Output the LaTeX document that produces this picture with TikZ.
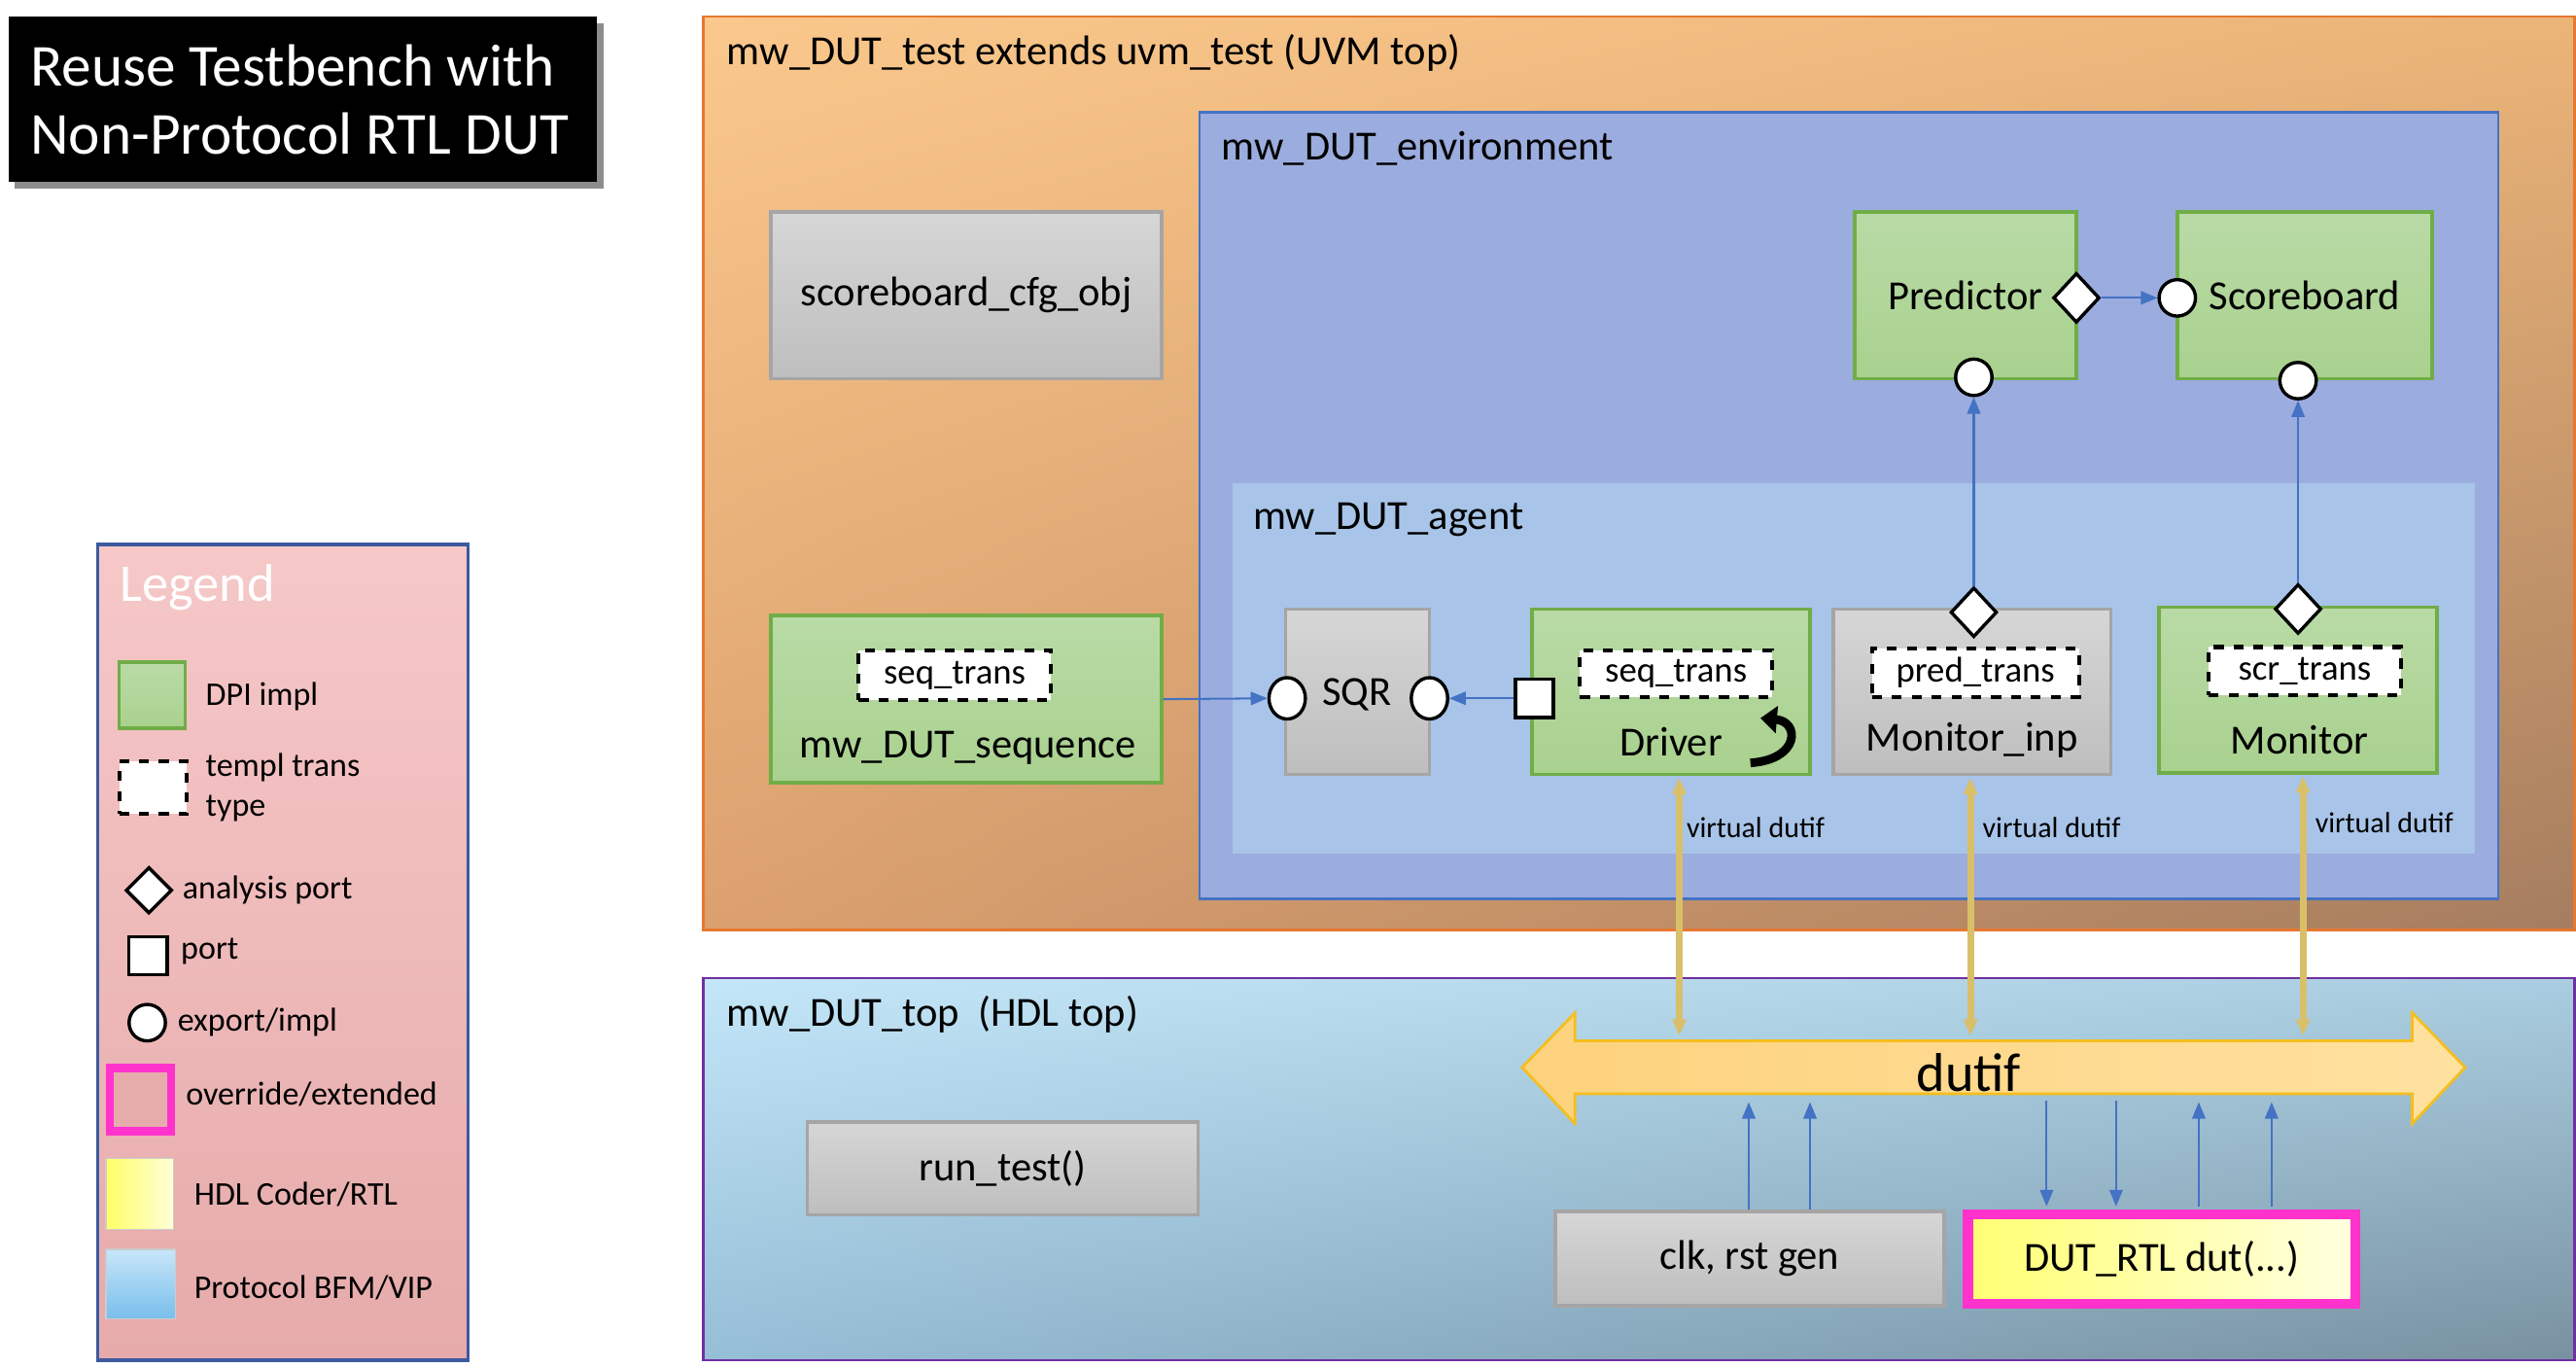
\documentclass[tikz,border=0pt]{standalone}
\usepackage{fontspec}
\setmainfont{Carlito}
\usetikzlibrary{shapes.geometric,arrows.meta,shadings}
\definecolor{gfill}{HTML}{A9D18E}
\definecolor{gtop}{HTML}{B9DAA6}
\definecolor{gline}{HTML}{70AD47}
\definecolor{grey1}{HTML}{D6D6D6}
\definecolor{grey2}{HTML}{BEBEBE}
\definecolor{greyline}{HTML}{A5A5A5}
\definecolor{bline}{HTML}{4472C4}
\definecolor{yline}{HTML}{D9BF6A}
\definecolor{mag}{HTML}{FF33CC}
\definecolor{oUL}{RGB}{250,200,140}
\definecolor{oUR}{RGB}{235,180,120}
\definecolor{oLL}{RGB}{220,160,110}
\definecolor{oLR}{RGB}{165,125,95}
\definecolor{hUL}{RGB}{195,230,248}
\definecolor{hUR}{RGB}{170,205,225}
\definecolor{hLL}{RGB}{150,190,215}
\definecolor{hLR}{RGB}{120,145,160}
\definecolor{envc}{RGB}{155,172,222}
\definecolor{agc}{RGB}{168,196,232}
\definecolor{legT}{RGB}{246,200,200}
\definecolor{legB}{RGB}{230,170,170}
\definecolor{legL}{RGB}{60,90,160}
\definecolor{uvmL}{RGB}{230,120,50}
\definecolor{hdlL}{RGB}{112,48,160}
\definecolor{arL}{RGB}{245,190,30}
\definecolor{arA}{RGB}{253,210,125}
\definecolor{arB}{RGB}{255,225,160}
\definecolor{pinkf}{RGB}{230,172,172}
\definecolor{bfmB}{RGB}{120,190,235}
\definecolor{bfmT}{RGB}{200,230,250}
\tikzset{
  x=0.5pt,y=-0.5pt,
  gbox/.style={draw=gline,line width=1pt,top color=gtop,bottom color=gfill,inner sep=0pt},
  gybox/.style={draw=greyline,line width=1pt,top color=grey1,bottom color=grey2,inner sep=0pt},
  dbox/.style={draw=black,dashed,line width=1.2pt,fill=white,inner sep=0pt,font=\fontsize{10.8}{12}\selectfont},
  lbl/.style={font=\fontsize{12.5}{14}\selectfont,inner sep=0pt},
  tlbl/.style={font=\fontsize{12.5}{14}\selectfont,anchor=west,inner sep=0pt},
  circ/.style={circle,draw=black,line width=1pt,fill=white,minimum size=11pt,inner sep=0pt},
  dia/.style={diamond,draw=black,line width=1pt,fill=white,minimum width=14pt,minimum height=15pt,inner sep=0pt,aspect=0.9},
  sq/.style={rectangle,draw=black,line width=1pt,fill=white,minimum size=11.5pt,inner sep=0pt},
  barrow/.style={draw=bline,line width=0.6pt,-{Triangle[length=5pt,width=4pt]}},
  yarrow/.style={draw=yline,line width=2pt,{Triangle[length=5pt,width=4pt]}-{Triangle[length=5pt,width=4pt]}},
  vd/.style={font=\fontsize{8.8}{10}\selectfont,anchor=west,inner sep=0pt},
  leg/.style={font=\fontsize{10}{12}\selectfont,anchor=west,inner sep=0pt},
}
\begin{document}
\begin{tikzpicture}
\useasboundingbox (0,0) rectangle (1557,826);
\fill[white] (0,0) rectangle (1557,826);
% title
\fill[black!45] (9,14) rectangle (365,114);
\fill[black] (5,10) rectangle (361,110);
\node[text=white,align=left,anchor=west,font=\fontsize{18}{20.5}\selectfont,inner sep=0pt] (title) at (18,60) {Reuse Testbench with\\Non-Protocol RTL DUT};
% legend
\shade[top color=legT, bottom color=legB] (59,329) rectangle (283,822);
\draw[draw=legL,line width=1pt] (59,329) rectangle (283,822);
\node[text=white,anchor=west,font=\fontsize{16}{18}\selectfont,inner sep=0pt] (legTx) at (72,355) {Legend};
\node[gbox,minimum width=20pt,minimum height=20pt] (lg1) at (92,420) {};
\node[leg] (lgt1) at (124,421) {DPI impl};
\node[dbox,minimum width=20.5pt,minimum height=16pt] (lg2) at (92.5,476) {};
\node[leg,align=left] (lgt2) at (124,476) {templ trans\\type};
\node[dia,minimum width=14pt,minimum height=14pt] (lg3) at (90,538) {};
\node[leg] (lgt3) at (110,538) {analysis port};
\node[sq] (lg4) at (89.5,577.5) {};
\node[leg] (lgt4) at (109,575) {port};
\node[circ] (lg5) at (89,618) {};
\node[leg] (lgt5) at (107,618) {export/impl};
\node[draw=mag,line width=2.5pt,fill=pinkf,minimum width=18.5pt,minimum height=19pt,inner sep=0pt] (lg6) at (85,664.5) {};
\node[leg] (lgt6) at (112,661) {override/extended};
\node[draw=white!80!black,left color=yellow!60,right color=yellow!15,minimum width=20.5pt,minimum height=21.5pt,inner sep=0pt] (lg7) at (84.5,721.5) {};
\node[leg] (lgt7) at (117,722) {HDL Coder/RTL};
\node[draw=white!80!black,top color=bfmT,bottom color=bfmB,minimum width=21pt,minimum height=21pt,inner sep=0pt] (lg8) at (85,776) {};
\node[leg] (lgt8) at (117,778) {Protocol BFM/VIP};
% UVM top
\shade[upper left=oUL,upper right=oUR,lower left=oLL,lower right=oLR] (425,10) rectangle (1556,562);
\draw[draw=uvmL,line width=0.8pt] (425,10) rectangle (1556,562);
\node[tlbl] (uvmT) at (439,32) {mw\_DUT\_test extends uvm\_test (UVM top)};
\node[gybox,minimum width=118pt,minimum height=50.5pt,lbl] (cfg) at (584,178.5) {scoreboard\_cfg\_obj};
% env
\fill[envc] (725,68) rectangle (1510,543);
\draw[bline,line width=0.8pt] (725,68) rectangle (1510,543);
\node[tlbl] (envT) at (738,90) {mw\_DUT\_environment};
\node[gbox,minimum width=67pt,minimum height=50.5pt,lbl] (pred) at (1188,178.5) {Predictor};
\node[gbox,minimum width=77pt,minimum height=50.5pt,lbl] (scb) at (1393,178.5) {Scoreboard};
\node[dia] (predDia) at (1255,180) {};
\node[circ] (scC) at (1316,180) {};
\node[circ] (predC) at (1193,228) {};
\node[circ] (scbC) at (1389,230) {};
\draw[barrow] (predDia.east) -- (scC.west);
% agent
\fill[agc] (745,292) rectangle (1496,516);
\node[tlbl] (agT) at (757,314) {mw\_DUT\_agent};
\node[gybox,minimum width=43.5pt,minimum height=50pt] (sqr) at (820.5,418) {};
\node[lbl] (sqrT) at (820,420) {SQR};
\node[draw=black,line width=1pt,fill=white,ellipse,minimum width=11pt,minimum height=12.5pt,inner sep=0pt] (sqrL) at (778,422) {};
\node[draw=black,line width=1pt,fill=white,ellipse,minimum width=11pt,minimum height=12.5pt,inner sep=0pt] (sqrR) at (864,422) {};
\node[gbox,minimum width=84pt,minimum height=50pt] (drv) at (1010,418) {};
\node[dbox,minimum width=58pt,minimum height=14pt] (drvST) at (1013,407) {seq\_trans};
\node[lbl] (drvT) at (1010,448) {Driver};
\node[sq] (drvP) at (927.5,422) {};
\draw[line width=2.6pt,-{Triangle[length=5pt,width=8pt]}] (1058,461) .. controls (1088,459) and (1088,436) .. (1064,434);
\node[gybox,minimum width=84pt,minimum height=50pt] (mi) at (1192,418) {};
\node[dbox,minimum width=62.5pt,minimum height=14.5pt] (miT2) at (1194,406.5) {pred\_trans};
\node[lbl] (miT) at (1192,447) {Monitor\_inp};
\node[dia] (miDia) at (1193,370) {};
\node[gbox,minimum width=84pt,minimum height=50pt] (mon) at (1389,417) {};
\node[dbox,minimum width=58pt,minimum height=14.5pt] (monT2) at (1393,405.5) {scr\_trans};
\node[lbl] (monT) at (1390,447) {Monitor};
\node[dia] (monDia) at (1389,368) {};
\draw[barrow] (miDia.north) -- (predC.south);
\draw[barrow] (monDia.north) -- (scbC.south);
% sequence
\node[gbox,minimum width=118pt,minimum height=50.5pt] (seq) at (584,422.5) {};
\node[dbox,minimum width=58pt,minimum height=15pt] (seqST) at (577,408) {seq\_trans};
\node[lbl] (seqT) at (585,452) {mw\_DUT\_sequence};
\draw[barrow] (seq.east) -- (sqrL.west);
\draw[barrow] (drvP.west) -- (sqrR.east);
% HDL top
\shade[upper left=hUL,upper right=hUR,lower left=hLL,lower right=hLR] (425,591) rectangle (1556,822);
\draw[draw=hdlL,line width=0.8pt] (425,591) rectangle (1556,822);
\node[tlbl] (hdlT) at (439,613) {mw\_DUT\_top\ \ (HDL top)};
\node[gybox,minimum width=118pt,minimum height=28pt,lbl] (rt) at (606,706) {run\_test()};
\node[gybox,minimum width=117.5pt,minimum height=28.5pt,lbl] (clk) at (1057.5,760.5) {clk, rst gen};
\node[draw=mag,line width=3pt,left color=yellow!55,right color=yellow!12,minimum width=117pt,minimum height=27pt,inner sep=0pt,lbl] (dut) at (1306.5,761) {DUT\_RTL dut(...)};
% dutif arrow
\draw[draw=arL,line width=0.8pt,left color=arA,right color=arB]
 (920,645) -- (952,612) -- (952,629) -- (1458,629) -- (1458,612) -- (1490,645) -- (1458,679) -- (1458,661) -- (952,661) -- (952,679) -- cycle;
\node[font=\fontsize{16.5}{18}\selectfont,inner sep=0pt] (dutif) at (1190,648) {dutif};
% yellow virtual dutif links
\coordinate (y1a) at (1015,470); \coordinate (y1b) at (1015,626);
\coordinate (y2a) at (1191,470); \coordinate (y2b) at (1191,626);
\coordinate (y3a) at (1392,469); \coordinate (y3b) at (1392,626);
\draw[yarrow] (y1a) -- (y1b);
\draw[yarrow] (y2a) -- (y2b);
\draw[yarrow] (y3a) -- (y3b);
\node[vd] (vd1) at (1019,500) {virtual dutif};
\node[vd] (vd2) at (1198,500) {virtual dutif};
\node[vd] (vd3) at (1399,497) {virtual dutif};
% blue signal arrows
\coordinate (c1) at (1057,731); \coordinate (c1t) at (1057,666);
\coordinate (c2) at (1094,731); \coordinate (c2t) at (1094,666);
\coordinate (d1t) at (1237,665); \coordinate (d1) at (1237,729);
\coordinate (d2t) at (1279,665); \coordinate (d2) at (1279,729);
\coordinate (d3) at (1329,729); \coordinate (d3t) at (1329,666);
\coordinate (d4) at (1373,729); \coordinate (d4t) at (1373,666);
\draw[barrow] (c1) -- (c1t);
\draw[barrow] (c2) -- (c2t);
\draw[barrow] (d1t) -- (d1);
\draw[barrow] (d2t) -- (d2);
\draw[barrow] (d3) -- (d3t);
\draw[barrow] (d4) -- (d4t);
\end{tikzpicture}
\end{document}
